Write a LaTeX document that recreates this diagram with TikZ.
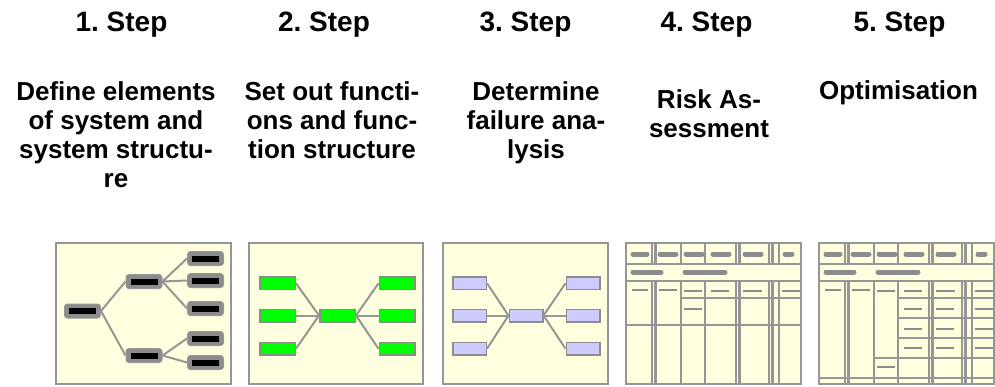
\documentclass[tikz,border=0pt]{standalone}
\usepackage{fontspec}
\setmainfont{Liberation Sans}
\frenchspacing
\definecolor{panelfill}{RGB}{255,255,224}
\definecolor{linegray}{RGB}{150,150,150}
\definecolor{boxgray}{RGB}{140,140,140}
\definecolor{funcgreen}{RGB}{0,255,0}
\definecolor{faillav}{RGB}{204,204,255}

\begin{document}
\begin{tikzpicture}[x=1pt,y=1pt,
    panel/.style={draw=linegray,fill=panelfill,line width=2.5pt},
    title/.style={font=\bfseries\fontsize{28}{34}\selectfont,anchor=base,inner sep=0},
    desc/.style={font=\bfseries\fontsize{26}{29}\selectfont,align=center,anchor=north,inner sep=0},
    elem/.style={rectangle,rounded corners=3pt,fill=boxgray,draw=linegray,line width=1pt,
                 minimum width=36pt,minimum height=14pt,inner sep=0},
    func/.style={rectangle,fill=funcgreen,draw=boxgray,line width=1.5pt,
                 minimum width=35.5pt,minimum height=12.5pt,inner sep=0},
    fail/.style={rectangle,fill=faillav,draw=boxgray,line width=1.5pt,
                 minimum width=33.5pt,minimum height=12.5pt,inner sep=0},
    grid/.style={draw=linegray,line width=2.5pt},
    headbar/.style={draw=boxgray,line width=5pt,line cap=round},
    rowmark/.style={draw=boxgray,line width=2.5pt}]

\useasboundingbox (0,0) rectangle (995,-386);

\begin{scope}

    \node[title] (T1) at (121.5,-31) {1. Step};
    \node[title] (T2) at (324,-31) {2. Step};
    \node[title] (T3) at (525.5,-31) {3. Step};
    \node[title] (T4) at (706.5,-31) {4. Step};
    \node[title] (T5) at (899.5,-31) {5. Step};

    \node[desc] (D1) at (116,-81)
        {Define elements\\of system and\\system structu-\\re};
    \node[desc] (D2) at (332,-81)
        {Set out functi-\\ons and func-\\tion structure};
    \node[desc] (D3) at (536,-81)
        {Determine\\failure ana-\\lysis};
    \node[desc] (D4) at (709,-89) {Risk As-\\sessment};
    \node[desc] (D5) at (898.5,-80) {Optimisation};

\end{scope}

% panels
\draw[panel] (56,-243) rectangle (231,-384);
\draw[panel] (249,-243) rectangle (423,-384);
\draw[panel] (443,-243) rectangle (608,-384);

% 1. system structure
\begin{scope}

    \node[elem] (root) at (82.5,-311) {\rule{27pt}{6pt}};
    \node[elem] (up) at (144,-281.5) {\rule{27pt}{6pt}};
    \node[elem] (low) at (144,-355.5) {\rule{27pt}{6pt}};

    \node[elem] (up1) at (205.5,-258.5) {\rule{27pt}{6pt}};
    \node[elem] (up2) at (205.5,-280.5) {\rule{27pt}{6pt}};
    \node[elem] (up3) at (205.5,-308.5) {\rule{27pt}{6pt}};
    \node[elem] (low1) at (205.5,-338.5) {\rule{27pt}{6pt}};
    \node[elem] (low2) at (205.5,-362.5) {\rule{27pt}{6pt}};

\end{scope}

% 2. function structure
\begin{scope}

    \node[func] (fL1) at (277.5,-283.3) {};
    \node[func] (fL2) at (277.5,-315.5) {};
    \node[func] (fL3) at (277.5,-348.7) {};
    \node[func] (fC) at (337.5,-315.5) {};
    \node[func] (fR1) at (397,-283.3) {};
    \node[func] (fR2) at (397,-315.5) {};
    \node[func] (fR3) at (397,-348.7) {};

\end{scope}

% 3. failure analysis
\begin{scope}

    \node[fail] (gL1) at (469.5,-283.3) {};
    \node[fail] (gL2) at (469.5,-315.5) {};
    \node[fail] (gL3) at (469.5,-348.7) {};
    \node[fail] (gC) at (526,-315.5) {};
    \node[fail] (gR1) at (583,-283.3) {};
    \node[fail] (gR2) at (583,-315.5) {};
    \node[fail] (gR3) at (583,-348.7) {};

\end{scope}

\begin{scope} [every edge/.style={draw=linegray,line width=2pt}]

    \path (root.east) edge (up.west);
    \path (root.east) edge (low.west);
    \path (up.east) edge (up1.west);
    \path (up.east) edge (up2.west);
    \path (up.east) edge (up3.west);
    \path (low.east) edge (low1.west);
    \path (low.east) edge (low2.west);

    \path (fL1.east) edge (fC.west);
    \path (fL2.east) edge (fC.west);
    \path (fL3.east) edge (fC.west);
    \path (fC.east) edge (fR1.west);
    \path (fC.east) edge (fR2.west);
    \path (fC.east) edge (fR3.west);

    \path (gL1.east) edge (gC.west);
    \path (gL2.east) edge (gC.west);
    \path (gL3.east) edge (gC.west);
    \path (gC.east) edge (gR1.west);
    \path (gC.east) edge (gR2.west);
    \path (gC.east) edge (gR3.west);

\end{scope}

% 4. and 5. forms
\foreach \ox in {626,819} {
\begin{scope}[shift={(\ox,0)}]
    \draw[panel] (0,-243) rectangle (175,-384);
    \foreach \vx in {26,29.5,55,79,110,113.5,143,146.5,153} {
        \draw[grid] (\vx,-243) -- (\vx,-264);
        \draw[grid] (\vx,-281) -- (\vx,-384);
    }
    \draw[grid] (0,-264) -- (175,-264);
    \draw[grid] (0,-281) -- (175,-281);
    \foreach \a/\b in {7/21,34/50,60/76,87/103,119/135,159/166}
        \draw[headbar] (\a,-254) -- (\b,-254);
    \draw[headbar] (7,-272) -- (35,-272);
    \draw[headbar] (59,-272) -- (99,-272);
    \foreach \a/\b/\y in {6/22/290,33/51/290,58/76/291,85/103/291,117/136/291,156/174/291}
        \draw[rowmark] (\a,-\y) -- (\b,-\y);
\end{scope}
}

\begin{scope}[shift={(626,0)}]
    \draw[grid] (55,-298) -- (175,-298);
    \draw[grid] (0,-325) -- (175,-325);
    \draw[rowmark] (58,-309) -- (76,-309);
\end{scope}

\begin{scope}[shift={(819,0)}]
    \draw[grid] (79,-298) -- (175,-298);
    \draw[grid] (79,-318) -- (175,-318);
    \draw[grid] (79,-338) -- (175,-338);
    \draw[grid] (55,-358) -- (175,-358);
    \draw[grid] (0,-378) -- (175,-378);
    \foreach \y in {309,329,348} {
        \draw[rowmark] (85,-\y) -- (103,-\y);
        \draw[rowmark] (117,-\y) -- (135,-\y);
        \draw[rowmark] (156,-\y) -- (174,-\y);
    }
    \draw[rowmark] (58,-367) -- (76,-367);
\end{scope}

\end{tikzpicture}
\end{document}
